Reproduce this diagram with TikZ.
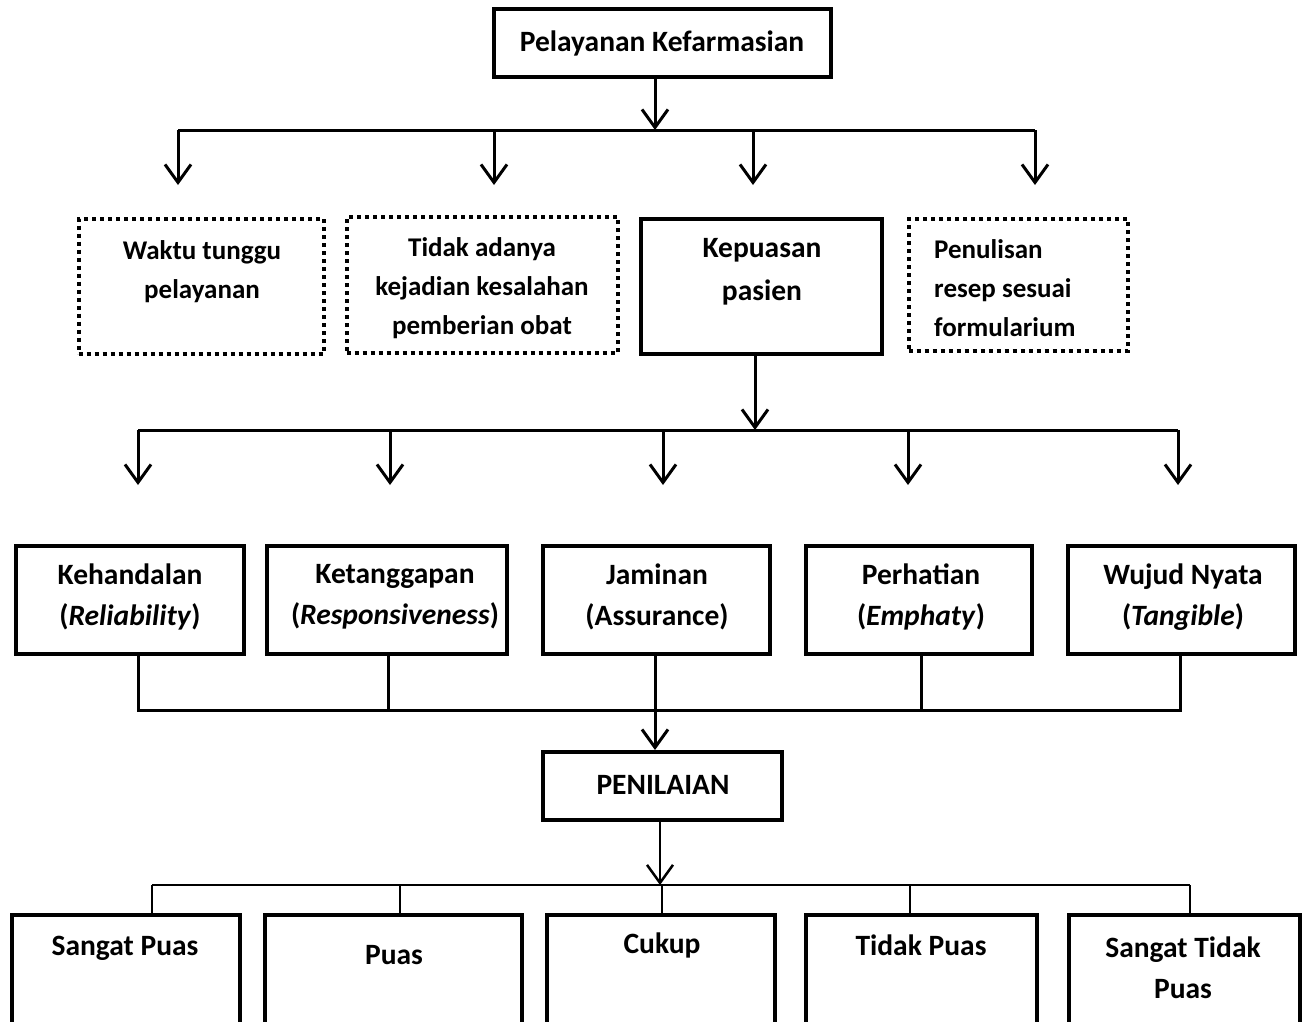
\documentclass[tikz,border=0pt]{standalone}
\usepackage{fontspec}
\setmainfont{Carlito}
\usetikzlibrary{arrows.meta}

\begin{document}
\begin{tikzpicture}[x=1pt, y=-1pt,
  box/.style={draw, line width=4pt, inner sep=0pt},
  dotbox/.style={draw, line width=4pt, dash pattern=on 4pt off 4pt, inner sep=0pt},
  lbl/.style={font=\bfseries\fontsize{29.5}{41}\selectfont, align=center, inner sep=0pt},
  small/.style={font=\bfseries\fontsize{27}{39}\selectfont, align=center, inner sep=0pt},
  link/.style={line width=3pt},
  arr/.style={line width=3pt, -{Straight Barb[length=18pt, width=26pt]}}]
\useasboundingbox (0,0) rectangle (1305,1021);
% top level
\node[box, minimum width=337, minimum height=68] (pk) at (662,43) {};
\node[lbl] (pk-t) at (662,43) {Pelayanan Kefarmasian};
% indicators
\node[dotbox, minimum width=245, minimum height=135] (waktu) at (201,286) {};
\node[dotbox, minimum width=271, minimum height=136] (salah) at (482,285) {};
\node[box, minimum width=241, minimum height=135] (puas) at (761,286) {};
\node[dotbox, minimum width=219, minimum height=132] (resep) at (1018,285) {};
\node[small] (waktu-t) at (202,272) {Waktu tunggu\\pelayanan};
\node[small] (salah-t) at (482,288) {Tidak adanya\\kejadian kesalahan\\pemberian obat};
\node[lbl, font=\bfseries\fontsize{29.5}{43}\selectfont] (puas-t) at (762,272) {Kepuasan\\pasien};
\node[small, align=left, anchor=west] (resep-t) at (934,288) {Penulisan\\resep sesuai\\formularium};
% dimensions
\node[box, minimum width=228, minimum height=108] (rel) at (130,600) {};
\node[box, minimum width=240, minimum height=108] (res) at (387,600) {};
\node[box, minimum width=227, minimum height=108] (asr) at (656,600) {};
\node[box, minimum width=226, minimum height=108] (emp) at (919,600) {};
\node[box, minimum width=227, minimum height=108] (tan) at (1181,600) {};
\node[lbl] (rel-t) at (130,597) {Kehandalan\\(\textit{Reliability})};
\node[lbl] (res-t) at (395,597) {Ketanggapan\\(\textit{Responsiveness})};
\node[lbl] (asr-t) at (657,597) {Jaminan\\(Assurance)};
\node[lbl] (emp-t) at (921,597) {Perhatian\\(\textit{Emphaty})};
\node[lbl] (tan-t) at (1183,597) {Wujud Nyata\\(\textit{Tangible})};
% assessment
\node[box, minimum width=239, minimum height=68] (nilai) at (662,786) {};
\node[lbl] (nilai-t) at (663,785) {PENILAIAN};
% scale
\node[box, minimum width=228, minimum height=130] (sp) at (126,980) {};
\node[box, minimum width=257, minimum height=130] (p) at (393,980) {};
\node[box, minimum width=228, minimum height=130] (c) at (661,980) {};
\node[box, minimum width=231, minimum height=130] (tp) at (921,980) {};
\node[box, minimum width=231, minimum height=130] (stp) at (1184,980) {};
\node[lbl] (sp-t) at (125,948) {Sangat Puas};
\node[lbl] (p-t) at (394,955) {Puas};
\node[lbl] (c-t) at (662,945) {Cukup};
\node[lbl] (tp-t) at (921,945) {Tidak Puas};
\node[lbl] (stp-t) at (1183,968) {Sangat Tidak\\Puas};

% first branching
\coordinate (bus1) at (655,130);
\coordinate (a1) at (178,185);
\coordinate (a2) at (494,185);
\coordinate (a3) at (753,185);
\coordinate (a4) at (1035,185);
\draw[arr] (pk.south -| bus1) -- (bus1);
\draw[link] (a1 |- bus1) -- (a4 |- bus1);
\foreach \a in {a1,a2,a3,a4}
  \draw[arr] (\a |- bus1) -- (\a);

% second branching
\coordinate (bus2) at (755,430);
\coordinate (b1) at (138,485);
\coordinate (b2) at (390,485);
\coordinate (b3) at (663,485);
\coordinate (b4) at (908,485);
\coordinate (b5) at (1178,485);
\draw[arr] (puas.south -| bus2) -- (bus2);
\draw[link] (b1 |- bus2) -- (b5 |- bus2);
\foreach \b in {b1,b2,b3,b4,b5}
  \draw[arr] (\b |- bus2) -- (\b);

% joining the dimensions
\coordinate (bus3) at (655,710);
\draw[link] (rel.south -| 138,0) |- (bus3);
\draw[link] (res.south -| 388,0) -- (388,710);
\draw[link] (asr.south -| bus3) -- (bus3);
\draw[link] (emp.south -| 921,0) -- (921,710);
\draw[link] (tan.south -| 1180,0) |- (bus3);
\draw[arr] (bus3) -- (nilai.north -| bus3);

% rating scale
\coordinate (bus4) at (660,885);
\draw[arr, line width=2.5pt] (nilai.south -| bus4) -- (bus4);
\draw[link, line width=2.5pt] (152,885) -- (1190,885);
\draw[link, line width=2.5pt] (152,885) -- (sp.north -| 152,0);
\draw[link, line width=2.5pt] (400,885) -- (p.north -| 400,0);
\draw[link, line width=2.5pt] (662,885) -- (c.north -| 662,0);
\draw[link, line width=2.5pt] (910,885) -- (tp.north -| 910,0);
\draw[link, line width=2.5pt] (1190,885) -- (stp.north -| 1190,0);
\end{tikzpicture}
\end{document}
